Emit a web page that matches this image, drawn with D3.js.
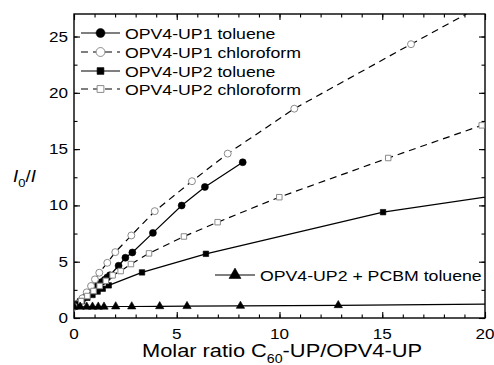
<!DOCTYPE html>
<html>
<head>
<meta charset="utf-8">
<script src="https://cdn.jsdelivr.net/npm/d3@7"></script>
<style>
  body { margin: 0; background: #fff; }
  text { font-family: 'Liberation Sans', Arial, sans-serif; fill: #000; }
</style>
</head>
<body>
<div id="chart"></div>
<script>
'use strict'

// values (points past 20 / 27 are clipped by the frame)
var up1TolX = [0, 0.15, 0.3, 0.45, 0.6, 0.75, 0.9, 1.05, 1.2, 1.35, 1.5, 1.62, 1.75, 2.17, 2.5, 2.84, 3.84, 5.24, 6.37, 8.21]
var up1TolY = [1, 1.25, 1.5, 1.75, 2.0, 2.25, 2.5, 2.75, 3.0, 3.2, 3.4, 3.6, 3.8, 4.64, 5.35, 5.82, 7.56, 9.99, 11.64, 13.83]

var up1ChlX = [0, 0.21, 0.41, 0.62, 0.83, 1.02, 1.23, 1.62, 2.01, 2.79, 3.93, 5.74, 7.48, 10.72, 16.4, 21.5]
var up1ChlY = [1, 1.3, 1.75, 2.28, 2.84, 3.43, 4.02, 4.9, 5.85, 7.33, 9.49, 12.15, 14.6, 18.59, 24.32, 29.4]

var up2TolX = [0, 0.2, 0.4, 0.65, 0.9, 1.15, 1.4, 1.69, 3.31, 6.42, 15.04, 25]
var up2TolY = [1, 1.25, 1.5, 1.8, 2.05, 2.35, 2.6, 2.9, 4.05, 5.7, 9.4, 12.1]

var up2ChlX = [0, 0.35, 0.65, 0.95, 1.25, 1.55, 1.88, 2.27, 2.77, 3.65, 5.35, 6.99, 9.99, 15.29, 19.84]
var up2ChlY = [1, 1.5, 1.95, 2.4, 2.85, 3.3, 3.79, 4.17, 4.79, 5.74, 7.24, 8.51, 10.73, 14.21, 17.11]

var pcbmX = [0, 0.3, 0.62, 0.9, 1.18, 1.46, 2.03, 2.81, 4.17, 5.5, 8.1, 12.86, 25]
var pcbmY = [1, 1, 1, 1, 1, 1, 1.02, 1.02, 1.04, 1.05, 1.07, 1.13, 1.3]

var xTicks = [0, 5, 10, 15, 20]
var yTicks = [0, 5, 10, 15, 20, 25]

var series = [
  { label: 'OPV4-UP1 toluene', xs: up1TolX, ys: up1TolY, marker: 'circle', open: false, dash: null },
  { label: 'OPV4-UP1 chloroform', xs: up1ChlX, ys: up1ChlY, marker: 'circle', open: true, dash: '7,5' },
  { label: 'OPV4-UP2 toluene', xs: up2TolX, ys: up2TolY, marker: 'square', open: false, dash: null },
  { label: 'OPV4-UP2 chloroform', xs: up2ChlX, ys: up2ChlY, marker: 'square', open: true, dash: '7,5' },
  { label: 'OPV4-UP2 + PCBM toluene', xs: pcbmX, ys: pcbmY, marker: 'triangle', open: false, dash: null }
]

var W = 494
var H = 365
var margin = { top: 14, right: 9, bottom: 47, left: 74 }
var width = W - margin.left - margin.right
var height = H - margin.top - margin.bottom
var stretch = 1.18

var x = d3.scaleLinear().domain([0, 20]).range([0, width])
var y = d3.scaleLinear().domain([0, 27]).range([height, 0])

var svg = d3
  .select('#chart')
  .append('svg')
  .attr('width', W)
  .attr('height', H)

var g = svg
  .append('g')
  .attr('transform', 'translate(' + margin.left + ',' + margin.top + ')')

g.append('clipPath')
  .attr('id', 'plotClip')
  .append('rect')
  .attr('width', width)
  .attr('height', height)

// text in the source is a bit wider than Arial, so scale it horizontally
function label(parent, px, py, anchor, size) {
  var t = parent
    .append('g')
    .attr('transform', 'translate(' + px + ',' + py + ') scale(' + stretch + ',1)')
    .append('text')
    .attr('text-anchor', anchor)
    .attr('font-size', size + 'px')
  return t
}

function drawMarker(sel, kind, open, size) {
  var sym = kind === 'circle' ? d3.symbolCircle : kind === 'square' ? d3.symbolSquare : d3.symbolTriangle
  sel
    .append('path')
    .attr('d', d3.symbol().type(sym).size(size))
    .attr('fill', open ? '#fff' : '#000')
    .attr('stroke', open ? '#8a8a8a' : '#000')
    .attr('stroke-width', open ? 1 : 0.6)
}

// axes: ticks inside on all four sides
var xMinor = d3.range(0, 21, 1)
var yMinor = d3.range(0, 27.1, 2.5)

function axisBits(axis, inner, major) {
  return axis
    .tickValues(major)
    .tickSizeInner(inner)
    .tickSizeOuter(0)
    .tickFormat('')
}

g.append('g')
  .attr('transform', 'translate(0,' + height + ')')
  .call(axisBits(d3.axisTop(x), 3.5, xMinor))
g.append('g')
  .attr('transform', 'translate(0,' + height + ')')
  .call(axisBits(d3.axisTop(x), 6, xTicks))
g.append('g').call(axisBits(d3.axisBottom(x), 3.5, xMinor))
g.append('g').call(axisBits(d3.axisBottom(x), 6, xTicks))
g.append('g').call(axisBits(d3.axisRight(y), 3.5, yMinor))
g.append('g').call(axisBits(d3.axisRight(y), 6, yTicks))
g.append('g')
  .attr('transform', 'translate(' + width + ',0)')
  .call(axisBits(d3.axisLeft(y), 3.5, yMinor))
g.append('g')
  .attr('transform', 'translate(' + width + ',0)')
  .call(axisBits(d3.axisLeft(y), 6, yTicks))

g.selectAll('.domain').remove()
g.selectAll('.tick line').attr('stroke', '#000').attr('stroke-width', 1.1)

g.append('rect')
  .attr('width', width)
  .attr('height', height)
  .attr('fill', 'none')
  .attr('stroke', '#000')
  .attr('stroke-width', 1.4)

xTicks.forEach(function(v) {
  label(g, x(v), height + 21, 'middle', 14.5).text(v)
})
yTicks.forEach(function(v) {
  label(g, -6, y(v) + 5, 'end', 14.5).text(v)
})

// series
var line = d3
  .line()
  .x(function(d) { return x(d[0]) })
  .y(function(d) { return y(d[1]) })

var plot = g.append('g').attr('clip-path', 'url(#plotClip)')

series.forEach(function(s) {
  var pts = s.xs.map(function(v, i) { return [v, s.ys[i]] })
  plot
    .append('path')
    .datum(pts)
    .attr('d', line)
    .attr('fill', 'none')
    .attr('stroke', '#000')
    .attr('stroke-width', 1.2)
    .attr('stroke-dasharray', s.dash)
})

series.forEach(function(s) {
  var pts = s.xs.map(function(v, i) { return [v, s.ys[i]] })
  var size = s.marker === 'circle' ? 38 : s.marker === 'square' ? 30 : 30
  plot
    .selectAll(null)
    .data(pts)
    .enter()
    .append('g')
    .attr('transform', function(d) { return 'translate(' + x(d[0]) + ',' + y(d[1]) + ')' })
    .each(function() { drawMarker(d3.select(this), s.marker, s.open, size) })
})

// legend, top-left block
var legRows = [19, 38, 57, 75]
series.slice(0, 4).forEach(function(s, i) {
  var lg = g.append('g').attr('transform', 'translate(7,' + legRows[i] + ')')
  lg.append('line')
    .attr('x1', 0)
    .attr('x2', 39)
    .attr('stroke', '#000')
    .attr('stroke-width', 1.2)
    .attr('stroke-dasharray', s.dash)
  var m = lg.append('g').attr('transform', 'translate(19.5,0)')
  drawMarker(m, s.marker, s.open, s.marker === 'circle' ? 62 : 46)
  label(lg, 44, 5.5, 'start', 15).text(s.label)
})

var pl = g.append('g').attr('transform', 'translate(141,261)')
pl.append('line')
  .attr('x1', 0)
  .attr('x2', 40)
  .attr('stroke', '#000')
  .attr('stroke-width', 1.2)
drawMarker(pl.append('g').attr('transform', 'translate(20,0)'), 'triangle', false, 62)
label(pl, 45, 5.5, 'start', 15).text(series[4].label)

// axis titles
var xt = label(svg, 142, 357, 'start', 18.5)
xt.append('tspan').text('Molar ratio C')
xt.append('tspan').attr('font-size', '12px').attr('dy', 6).text('60')
xt.append('tspan').attr('dy', -6).text('-UP/OPV4-UP')

var yt = label(svg, 13, 182, 'start', 16)
yt.append('tspan').attr('font-style', 'italic').text('I')
yt.append('tspan').attr('font-size', '11px').attr('dy', 5).text('0')
yt.append('tspan').attr('dy', -5).text('/')
yt.append('tspan').attr('font-style', 'italic').text('I')
</script>
</body>
</html>
